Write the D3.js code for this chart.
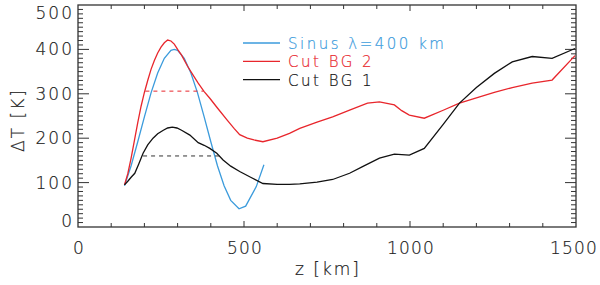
<!DOCTYPE html>
<html>
<head>
<meta charset="utf-8">
<script src="https://cdn.jsdelivr.net/npm/d3@7"></script>
<style>
  body { margin: 0; background: #fff; }
  text { font-family: "DejaVu Sans", sans-serif; font-weight: 200; stroke-width: 0.2px; }
</style>
</head>
<body>
<script>
// Sinus lambda = 400 km
var sinusZ = [140, 160, 180, 200, 220, 240, 260, 280, 290, 300, 320, 340, 360, 380, 400, 420, 440, 460, 485, 505, 537, 560];
var sinusT = [93, 138, 192, 248, 302, 347, 380, 398, 400, 398, 380, 347, 302, 248, 192, 138, 93, 60, 41, 47, 91, 140];

// Cut BG 2
var bg2Z = [140, 150, 160, 170, 180, 190, 200, 210, 220, 230, 240, 250, 260, 270, 280, 290, 300, 312, 330, 350, 362, 380, 397, 420, 450, 470, 487, 510, 530, 557, 600, 637, 668, 720, 767, 820, 872, 908, 953, 975, 998, 1043, 1100, 1149, 1200, 1254, 1308, 1368, 1428, 1497];
var bg2T = [95, 120, 155, 195, 235, 272, 303, 330, 355, 375, 392, 405, 415, 421, 419, 412, 400, 387, 362, 338, 324, 305, 290, 268, 240, 222, 208, 200, 196, 192, 200, 211, 222, 236, 248, 264, 279, 282, 275, 262, 252, 245, 263, 279, 291, 303, 314, 324, 331, 386];

// Cut BG 1
var bg1Z = [140, 150, 160, 171, 183, 196, 210, 226, 240, 257, 270, 284, 298, 312, 337, 362, 380, 397, 418, 437, 460, 487, 520, 557, 600, 637, 668, 720, 767, 818, 860, 908, 953, 998, 1043, 1100, 1149, 1200, 1254, 1308, 1368, 1428, 1497];
var bg1T = [95, 103, 112, 121, 142, 166, 185, 200, 210, 218, 223, 225, 223, 218, 207, 190, 184, 177, 166, 151, 137, 125, 112, 98, 96, 96, 97, 101, 107, 121, 137, 155, 164, 162, 177, 231, 279, 314, 346, 372, 384, 380, 402];

// dashed width markers
var bg2DashZ = [203, 378], bg2DashT = 306;
var bg1DashZ = [196, 427], bg1DashT = 160;

var xTicks = [0, 500, 1000, 1500];
var yTicks = [0, 100, 200, 300, 400, 500];

var legendNames = ["Sinus λ=400 km", "Cut BG 2", "Cut BG 1"];
var legendColors = ["#3b9bdc", "#e8262c", "#111111"];

var w = 600, h = 285,
    mLeft = 78, mRight = 576, mTop = 5, mBottom = 227;

var svg = d3.select("body")
    .append("svg")
    .attr("width", w)
    .attr("height", h);

var x = d3.scaleLinear().domain([0, 1500]).range([mLeft, mRight]);
var y = d3.scaleLinear().domain([0, 500]).range([mBottom, mTop]);

var axisColor = "#333";

// ticks: x every 100, y minor every 10, major every 100
var xt = d3.range(100, 1500, 100);
var yt = d3.range(10, 500, 10);

svg.selectAll(".xtb").data(xt).enter().append("line")
    .attr("x1", function (d) { return x(d); }).attr("x2", function (d) { return x(d); })
    .attr("y1", mBottom).attr("y2", function (d) { return d % 500 === 0 ? mBottom - 6 : mBottom - 4; })
    .attr("stroke", axisColor);
svg.selectAll(".xtt").data(xt).enter().append("line")
    .attr("x1", function (d) { return x(d); }).attr("x2", function (d) { return x(d); })
    .attr("y1", mTop).attr("y2", function (d) { return d % 500 === 0 ? mTop + 6 : mTop + 4; })
    .attr("stroke", axisColor);
svg.selectAll(".ytl").data(yt).enter().append("line")
    .attr("y1", function (d) { return y(d); }).attr("y2", function (d) { return y(d); })
    .attr("x1", mLeft).attr("x2", function (d) { return d % 100 === 0 ? mLeft + 11 : mLeft + 5; })
    .attr("stroke", axisColor);
svg.selectAll(".ytr").data(yt).enter().append("line")
    .attr("y1", function (d) { return y(d); }).attr("y2", function (d) { return y(d); })
    .attr("x1", mRight).attr("x2", function (d) { return d % 100 === 0 ? mRight - 11 : mRight - 5; })
    .attr("stroke", axisColor);

svg.append("rect")
    .attr("x", mLeft).attr("y", mTop)
    .attr("width", mRight - mLeft).attr("height", mBottom - mTop)
    .attr("fill", "none")
    .attr("stroke", axisColor)
    .attr("stroke-width", 1.3);

// tick labels
svg.selectAll(".xl").data(xTicks).enter().append("text")
    .text(function (d) { return d; })
    .attr("x", function (d) { return Math.min(x(d) + 1, 574); })
    .attr("y", 254)
    .attr("text-anchor", "middle")
    .attr("font-size", "17px")
    .attr("letter-spacing", "1.2px")
    .attr("fill", "#222").attr("stroke", "#222");

svg.selectAll(".yl").data(yTicks).enter().append("text")
    .text(function (d) { return d; })
    .attr("x", 74)
    .attr("y", function (d) { return Math.min(Math.max(y(d), 12.5), 221) + 6; })
    .attr("text-anchor", "end")
    .attr("font-size", "17px")
    .attr("letter-spacing", "2px")
    .attr("fill", "#222").attr("stroke", "#222");

svg.append("text")
    .text("z [km]")
    .attr("x", (mLeft + mRight) / 2 + 1)
    .attr("y", 275)
    .attr("text-anchor", "middle")
    .attr("font-size", "17px")
    .attr("letter-spacing", "2px")
    .attr("fill", "#222").attr("stroke", "#222");

svg.append("text")
    .text("ΔT [K]")
    .attr("transform", "translate(24,120) rotate(-90)")
    .attr("text-anchor", "middle")
    .attr("font-size", "17px")
    .attr("letter-spacing", "2px")
    .attr("fill", "#222").attr("stroke", "#222");

// curves
var line = d3.line()
    .x(function (d) { return x(d[0]); })
    .y(function (d) { return y(d[1]); });

function pairs(zs, ts) {
    return zs.map(function (z, i) { return [z, ts[i]]; });
}

var series = [pairs(sinusZ, sinusT), pairs(bg2Z, bg2T), pairs(bg1Z, bg1T)];

svg.selectAll(".curve").data(series).enter().append("path")
    .attr("d", function (d) { return line(d); })
    .attr("fill", "none")
    .attr("stroke", function (d, i) { return legendColors[i]; })
    .attr("stroke-width", 1.3);

// dashed markers
svg.append("line")
    .attr("x1", x(bg2DashZ[0])).attr("x2", x(bg2DashZ[1]))
    .attr("y1", y(bg2DashT)).attr("y2", y(bg2DashT))
    .attr("stroke", legendColors[1])
    .attr("stroke-dasharray", "4,4");
svg.append("line")
    .attr("x1", x(bg1DashZ[0])).attr("x2", x(bg1DashZ[1]))
    .attr("y1", y(bg1DashT)).attr("y2", y(bg1DashT))
    .attr("stroke", "#333")
    .attr("stroke-dasharray", "4,4");

// legend
var lg = svg.selectAll(".lg").data(legendNames).enter().append("g")
    .attr("transform", function (d, i) { return "translate(243," + (43 + i * 18.3) + ")"; });
lg.append("line")
    .attr("x1", 0).attr("x2", 37)
    .attr("stroke", function (d, i) { return legendColors[i]; })
    .attr("stroke-width", 1.3);
lg.append("text")
    .text(function (d) { return d; })
    .attr("x", 45)
    .attr("y", 6)
    .attr("font-size", "15px")
    .attr("letter-spacing", "2.5px")
    .attr("fill", function (d, i) { return legendColors[i]; })
    .attr("stroke", function (d, i) { return legendColors[i]; });
</script>
</body>
</html>
